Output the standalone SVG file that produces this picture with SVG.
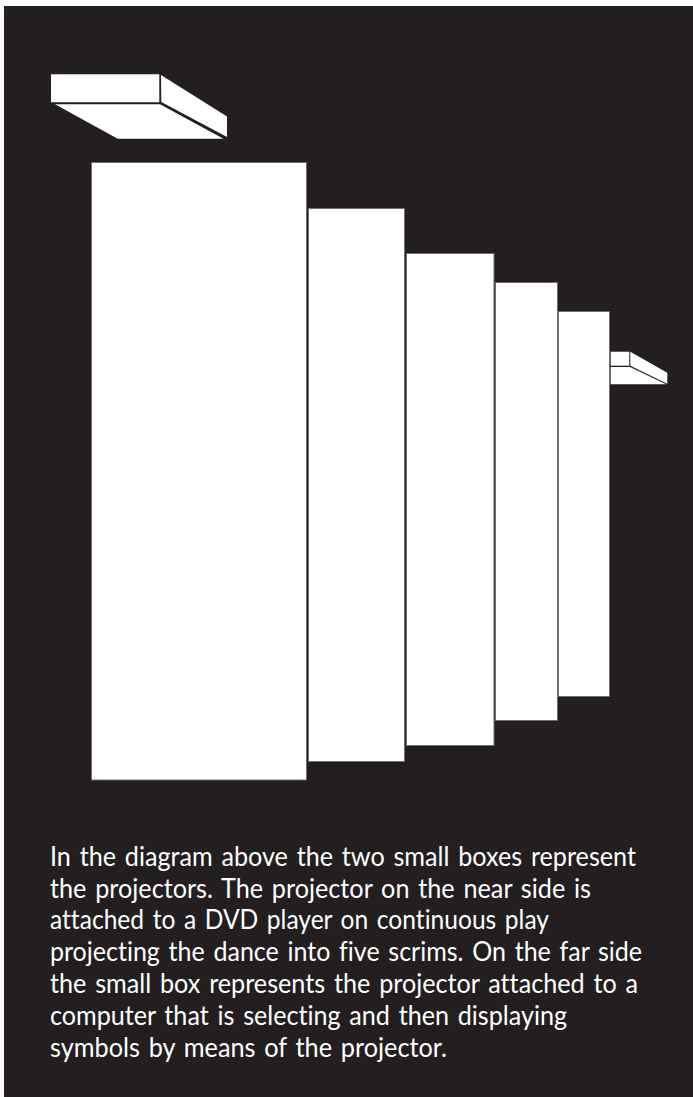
<svg xmlns="http://www.w3.org/2000/svg" width="693" height="1097" viewBox="0 0 693 1097">
<style>
.w{fill:#fff}
.s{fill:#fff;stroke:#6f6d6e;stroke-width:1}
text{font-family:"Lato","Liberation Sans",Arial,sans-serif;font-size:27px;fill:#fff;font-variant-ligatures:none;word-spacing:2.5px}
</style>
<rect width="693" height="1097" fill="#fff"/>
<rect x="4" y="6" width="689" height="1091" fill="#231f20"/>
<g id="projector-near">
<polygon class="w" points="51,74.3 159.3,74.3 159.3,102.3 51,102.3"/>
<polygon class="w" points="161,75 227,116.6 227,137 161.3,102"/>
<polygon class="w" points="55,104.3 160,104.3 223.5,138.7 117.7,138.7"/>
</g>
<g id="scrim-1"><rect class="s" x="91.5" y="162.5" width="215" height="617.5"/></g>
<g id="scrim-2"><rect class="s" x="308.5" y="208.5" width="96" height="553"/></g>
<g id="scrim-3"><rect class="s" x="406.5" y="253.5" width="87.5" height="492"/></g>
<g id="scrim-4"><rect class="s" x="495.5" y="282.5" width="62" height="438"/></g>
<g id="scrim-5"><rect class="s" x="558.5" y="311.5" width="51" height="385"/></g>
<g id="projector-far">
<polygon class="w" points="610.7,351.7 629.3,351.7 629.3,365.7 610.7,365.7"/>
<polygon class="w" points="630.3,351.7 667.3,372.7 667.3,383.7 630.3,365.7"/>
<polygon class="w" points="610.7,367 630,367 666,384.3 610.7,384.3"/>
</g>
<g id="caption">
<text x="50" y="866" textLength="586" lengthAdjust="spacingAndGlyphs">In the diagram above the two small boxes represent</text>
<text x="50" y="897.5" textLength="541" lengthAdjust="spacingAndGlyphs">the projectors. The projector on the near side is</text>
<text x="50" y="929" textLength="499" lengthAdjust="spacingAndGlyphs">attached to a DVD player on continuous play</text>
<text x="50" y="961" textLength="592" lengthAdjust="spacingAndGlyphs">projecting the dance into five scrims. On the far side</text>
<text x="50" y="993" textLength="588" lengthAdjust="spacingAndGlyphs">the small box represents the projector attached to a</text>
<text x="50" y="1025" textLength="517" lengthAdjust="spacingAndGlyphs">computer that is selecting and then displaying</text>
<text x="50" y="1056.5" textLength="397" lengthAdjust="spacingAndGlyphs">symbols by means of the projector.</text>
</g>
</svg>
